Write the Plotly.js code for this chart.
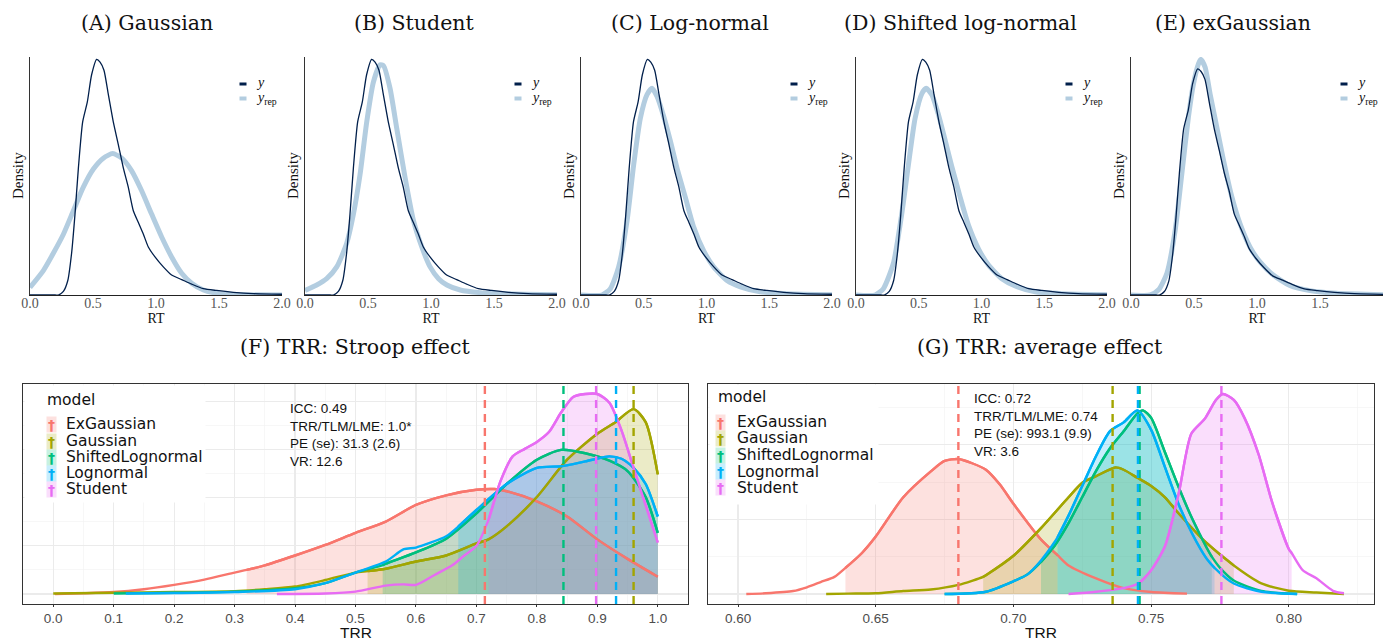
<!DOCTYPE html>
<html><head><meta charset="utf-8">
<script src="https://cdn.plot.ly/plotly-3.0.1.min.js"></script>
<style>html,body{margin:0;padding:0;background:#fff}</style>
</head><body>
<div id="chart" style="width:1390px;height:642px"></div>
<script>
// ---------- top row: posterior predictive density checks ----------
const obsRT   = [0,0.2,0.225,0.265,0.30,0.33,0.357,0.384,0.418,0.455,0.489,0.529,0.556,0.587,0.622,0.661,0.701,0.741,0.78,0.82,0.86,0.9,0.939,0.992,1.058,1.124,1.204,1.283,1.376,1.481,1.614,1.772,2.0];
const obsDens = [0,0,0.0,0.04,0.16,0.46,0.89,1.40,1.91,2.13,2.43,2.60,2.57,2.48,2.21,1.91,1.66,1.40,1.19,0.93,0.80,0.67,0.53,0.42,0.31,0.22,0.17,0.12,0.07,0.05,0.03,0.015,0.008];

const repRT_A   = [0,0.106,0.185,0.265,0.344,0.423,0.503,0.582,0.656,0.728,0.807,0.886,0.966,1.045,1.124,1.204,1.283,1.376,1.481,1.614,2.0];
const repDens_A = [0.084,0.27,0.46,0.67,0.93,1.19,1.39,1.51,1.56,1.51,1.37,1.15,0.89,0.64,0.42,0.24,0.13,0.055,0.02,0.005,0];

const repRT_B   = [0,0.093,0.172,0.252,0.331,0.384,0.437,0.49,0.543,0.596,0.623,0.675,0.728,0.795,0.861,0.927,0.993,1.06,1.126,1.232,1.391,1.656,2.0];
const repDens_B = [0.05,0.11,0.18,0.31,0.57,0.89,1.33,1.91,2.35,2.54,2.53,2.28,1.84,1.29,0.82,0.53,0.31,0.18,0.11,0.055,0.026,0.011,0.004];

const repRT_C   = [0,0.167,0.234,0.3,0.367,0.42,0.473,0.526,0.566,0.606,0.659,0.712,0.765,0.831,0.898,0.977,1.057,1.163,1.27,1.429,1.641,2.0];
const repDens_C = [0,0,0.07,0.31,0.82,1.44,1.95,2.21,2.28,2.19,1.97,1.70,1.40,1.08,0.75,0.49,0.31,0.16,0.09,0.036,0.015,0.004];

const repRT_D   = [0,0.152,0.218,0.298,0.364,0.418,0.471,0.524,0.559,0.604,0.657,0.71,0.763,0.83,0.896,0.976,1.056,1.162,1.269,1.428,1.641,2.0];
const repDens_D = [0,0,0.07,0.35,0.89,1.44,1.95,2.22,2.28,2.21,1.99,1.71,1.42,1.08,0.77,0.51,0.33,0.18,0.10,0.036,0.015,0.004];

const repRT_E   = [0,0.153,0.219,0.285,0.351,0.404,0.456,0.496,0.536,0.554,0.588,0.628,0.681,0.734,0.8,0.865,0.945,1.024,1.129,1.261,1.42,1.631,2.0];
const repDens_E = [0,0,0.06,0.25,0.75,1.40,2.05,2.43,2.66,2.71,2.62,2.31,1.93,1.55,1.13,0.82,0.55,0.38,0.23,0.11,0.05,0.02,0.004];

const panelTitles = ['(A) Gaussian','(B) Student','(C) Log-normal','(D) Shifted log-normal','(E) exGaussian'];
const rtTicks = [0,0.5,1.0,1.5,2.0];
const topLegendLabels = ['<i>y</i>','<i>y</i><sub>rep</sub>'];

// ---------- bottom row: TRR posterior densities ----------
const models = ['ExGaussian','Gaussian','ShiftedLognormal','Lognormal','Student'];
const modelColors = ['#F8766D','#A3A500','#00BF7D','#00B0F6','#E76BF3'];
const modelFills  = ['rgba(248,118,109,0.22)','rgba(163,165,0,0.22)','rgba(0,191,125,0.22)','rgba(0,176,246,0.22)','rgba(231,107,243,0.22)'];

// (F) Stroop effect
const F_ExGaussian_x = [0.003,0.05,0.1,0.15,0.2,0.25,0.3,0.32,0.35,0.4,0.45,0.5,0.55,0.6,0.65,0.7,0.73,0.75,0.8,0.85,0.9,0.95,1.0];
const F_ExGaussian_y = [0.0,0.03,0.08,0.2,0.38,0.6,0.89,1.0,1.19,1.6,2.04,2.54,3.01,3.7,4.1,4.33,4.36,4.27,3.85,3.22,2.27,1.46,0.72];
const F_Gaussian_x = [0.0,0.1,0.2,0.3,0.35,0.4,0.45,0.5,0.52,0.55,0.6,0.65,0.7,0.72,0.75,0.8,0.85,0.9,0.93,0.96,0.98,1.0];
const F_Gaussian_y = [0.02,0.05,0.08,0.12,0.2,0.31,0.58,0.89,0.95,1.05,1.35,1.6,2.1,2.27,2.81,4.03,5.58,6.66,7.14,7.68,7.14,4.97];
const F_Shifted_x = [0.1,0.2,0.3,0.4,0.45,0.5,0.545,0.55,0.6,0.65,0.7,0.75,0.8,0.84,0.88,0.92,0.95,0.98,1.0];
const F_Shifted_y = [0.02,0.05,0.1,0.24,0.45,0.89,1.2,1.26,1.73,2.3,3.35,4.57,5.58,5.99,5.85,5.54,5.11,4.03,2.54];
const F_Lognormal_x = [0.12,0.2,0.3,0.4,0.45,0.5,0.55,0.58,0.6,0.65,0.67,0.7,0.75,0.8,0.84,0.88,0.92,0.94,0.96,0.98,1.0];
const F_Lognormal_y = [0.02,0.04,0.08,0.2,0.45,0.89,1.35,1.86,1.93,2.4,2.8,3.49,4.57,5.24,5.31,5.51,5.72,5.62,5.24,4.57,3.22];
const F_Student_x = [0.37,0.45,0.5,0.55,0.58,0.6,0.63,0.66,0.68,0.7,0.72,0.74,0.76,0.78,0.8,0.82,0.84,0.86,0.88,0.9,0.92,0.94,0.96,0.98,1.0];
const F_Student_y = [0.0,0.02,0.1,0.35,0.4,0.38,0.78,1.19,1.6,2.0,3.08,4.7,5.72,6.03,6.32,6.73,7.54,8.19,8.31,8.31,7.95,6.8,5.24,3.69,2.14];
const F_fillLo = [0.32,0.52,0.545,0.67,0.72];
const F_fillHi = [1.0,1.0,1.0,1.0,1.0];
const F_means  = [0.714,0.960,0.844,0.931,0.898];
const F_stats  = ['ICC: 0.49','TRR/TLM/LME: 1.0*','PE (se): 31.3 (2.6)','VR: 12.6'];
const F_ticks  = [0.0,0.1,0.2,0.3,0.4,0.5,0.6,0.7,0.8,0.9,1.0];

// (G) average effect
const G_ExGaussian_x = [0.603,0.61,0.62,0.625,0.63,0.635,0.639,0.645,0.65,0.66,0.67,0.675,0.68,0.685,0.69,0.695,0.70,0.71,0.716,0.72,0.73,0.74,0.75,0.763];
const G_ExGaussian_y = [0.0,0.1,0.4,0.9,1.6,2.3,3.5,5.5,7.7,12.96,16.43,17.83,18.09,17.52,16.65,14.7,12.09,7.3,5.2,3.83,2.09,0.78,0.26,0.05];
const G_Gaussian_x = [0.632,0.64,0.65,0.66,0.67,0.68,0.689,0.69,0.70,0.71,0.72,0.725,0.73,0.737,0.74,0.745,0.75,0.755,0.76,0.77,0.78,0.79,0.80,0.81,0.82];
const G_Gaussian_y = [0.0,0.05,0.1,0.4,0.6,1.22,2.3,2.52,5.13,8.83,12.96,14.91,15.78,16.96,16.65,15.57,14.48,12.96,10.78,6.87,3.83,1.43,0.43,0.2,0.0];
const G_Shifted_x = [0.675,0.69,0.70,0.705,0.71,0.715,0.72,0.725,0.73,0.735,0.74,0.745,0.747,0.75,0.755,0.76,0.765,0.77,0.772,0.775,0.78,0.79,0.803];
const G_Shifted_y = [0.0,0.3,1.7,2.6,4.3,6.5,9.5,13.0,16.5,19.5,21.8,24.2,24.6,23.6,19.0,14.3,10.0,6.3,5.0,3.5,1.8,0.4,0.0];
const G_Lognormal_x = [0.675,0.69,0.70,0.705,0.71,0.715,0.716,0.72,0.725,0.73,0.735,0.74,0.745,0.75,0.755,0.76,0.765,0.77,0.773,0.78,0.79,0.803];
const G_Lognormal_y = [0.0,0.3,1.7,2.6,4.5,7.0,7.6,10.5,14.5,18.5,21.8,23.0,24.6,22.0,17.0,12.0,8.0,4.8,3.5,1.4,0.3,0.0];
const G_Student_x = [0.72,0.73,0.74,0.7455,0.75,0.755,0.76,0.7646,0.7695,0.7735,0.776,0.78,0.784,0.789,0.794,0.80,0.801,0.805,0.81,0.816,0.82];
const G_Student_y = [0.0,0.3,0.78,1.43,3.2,6.4,13.5,21.5,23.5,26.0,26.8,26.0,23.5,18.7,12.2,6.0,5.5,3.2,2.1,0.43,0.1];
const G_fillLo = [0.639,0.689,0.71,0.716,0.7455];
const G_fillHi = [0.716,0.78,0.772,0.773,0.801];
const G_means  = [0.680,0.736,0.7458,0.7452,0.7755];
const G_stats  = ['ICC: 0.72','TRR/TLM/LME: 0.74','PE (se): 993.1 (9.9)','VR: 3.6'];
const G_ticks  = [0.60,0.65,0.70,0.75,0.80];

const bottomTitles = ['(F) TRR: Stroop effect','(G) TRR: average effect'];
const legendTitle = 'model';

// ---------- build ----------
const W = 1390, H = 642;
const px = v => v / W, py = v => 1 - v / H;
const SERIF = 'Liberation Serif, Times New Roman, serif';
const TSERIF = 'DejaVu Serif, serif';
const SANS = 'Liberation Sans, Arial, sans-serif';
const LSANS = 'DejaVu Sans, sans-serif';

const repRT = [repRT_A, repRT_B, repRT_C, repRT_D, repRT_E];
const repDens = [repDens_A, repDens_B, repDens_C, repDens_D, repDens_E];
const topBox = [[30,282],[305,557],[581,832],[856,1107],[1131,1383]];
const topTitleX = [147,414,690,960,1233];
const topY = [57, 295];
const repColor = '#b3cde0', obsColor = '#011f4b';

const traces = [];
const layout = {
  width: W, height: H, margin: {l:0, r:0, t:0, b:0},
  paper_bgcolor: '#fff', plot_bgcolor: '#fff',
  showlegend: false, annotations: [], shapes: []
};
const ann = a => layout.annotations.push(Object.assign({xref:'paper', yref:'paper', showarrow:false}, a));

for (let i = 0; i < 5; i++) {
  const n = i + 1;
  const xa = n === 1 ? 'x' : 'x' + n, ya = n === 1 ? 'y' : 'y' + n;
  traces.push({type:'scatter', mode:'lines', x: repRT[i], y: repDens[i], xaxis: xa, yaxis: ya,
    line:{color: repColor, width:5, shape:'spline', smoothing:0.6}, name:'y_rep', hoverinfo:'skip'});
  traces.push({type:'scatter', mode:'lines', x: obsRT, y: obsDens, xaxis: xa, yaxis: ya,
    line:{color: obsColor, width:1.3, shape:'spline', smoothing:0.6}, name:'y', hoverinfo:'skip'});
  const ymax = Math.max(Math.max(...repDens[i]), Math.max(...obsDens));
  const kx = n === 1 ? 'xaxis' : 'xaxis' + n, ky = n === 1 ? 'yaxis' : 'yaxis' + n;
  layout[kx] = {domain:[px(topBox[i][0]), px(topBox[i][1])], anchor: ya, range:[0,2],
    tickvals: rtTicks, ticktext: rtTicks.map(v => v.toFixed(1)), ticks:'', showgrid:false, zeroline:false,
    showline:true, linecolor:'#222', linewidth:1, tickfont:{family:SERIF, size:14, color:'#555'},
    ticklabelstandoff:-5,
    title:{text:'RT', font:{family:SERIF, size:14, color:'#111'}, standoff:0}};
  layout[ky] = {domain:[py(topY[1]), py(topY[0])], anchor: xa, range:[0, ymax*1.01],
    showticklabels:false, ticks:'', showgrid:false, zeroline:false, showline:true, linecolor:'#333', linewidth:1};
  // titles and labels
  ann({text: panelTitles[i], x: px(topTitleX[i]), y: py(23), xanchor:'center', yanchor:'middle',
    font:{family:TSERIF, size:20.5, color:'#111'}});
  ann({text:'Density', x: px(topBox[i][0]-12), y: py(176), xanchor:'center', yanchor:'middle', textangle:-90,
    font:{family:SERIF, size:15, color:'#111'}});
  // small legend (y, y_rep): colored key bars + labels
  [obsColor, repColor].forEach((c, k) => {
    const yy = k === 0 ? 84 : 98;
    ann({text:' ', x: px(topBox[i][0]+212.5), y: py(yy), xanchor:'center', yanchor:'middle',
      width:6, height: k === 0 ? 2 : 3, bgcolor:c, borderpad:0, font:{family:SANS, size:1, color:c}});
    ann({text: topLegendLabels[k], x: px(topBox[i][0]+224), y: py(k === 0 ? 82 : 98), xanchor:'left', yanchor:'middle',
      font:{family:SERIF, size:14, color:'#111'}});
  });
}

function subset(xs, ys, lo, hi) {
  const X = [], Y = [];
  xs.forEach((x, k) => { if (x >= lo - 1e-9 && x <= hi + 1e-9) { X.push(x); Y.push(ys[k]); } });
  return [X, Y];
}

const bottom = [
  {xs:[F_ExGaussian_x,F_Gaussian_x,F_Shifted_x,F_Lognormal_x,F_Student_x],
   ys:[F_ExGaussian_y,F_Gaussian_y,F_Shifted_y,F_Lognormal_y,F_Student_y],
   lo:F_fillLo, hi:F_fillHi, means:F_means, stats:F_stats, ticks:F_ticks, fmt:1,
   box:[23,688], xrange:[-0.05,1.05], minor:0.05, ydt:2, yminor:1,
   legBg:[24,385,180,116], legTitle:[45,400], keyX:51, textX:64, rows:[424,441,457,473,489],
   statPos:[288,399], titleX:355},
  {xs:[G_ExGaussian_x,G_Gaussian_x,G_Shifted_x,G_Lognormal_x,G_Student_x],
   ys:[G_ExGaussian_y,G_Gaussian_y,G_Shifted_y,G_Lognormal_y,G_Student_y],
   lo:G_fillLo, hi:G_fillHi, means:G_means, stats:G_stats, ticks:G_ticks, fmt:2,
   box:[708,1374], xrange:[0.5891,0.8309], minor:0.025, ydt:10, yminor:5,
   legBg:[709,384,168,119], legTitle:[716,397], keyX:721, textX:735, rows:[422,438,455,471.5,487.5],
   statPos:[972,389], titleX:1040}
];
const botY = [384, 604];

bottom.forEach((p, b) => {
  const n = 6 + b, xa = 'x' + n, ya = 'y' + n;
  let ymax = 0;
  p.ys.forEach(a => { ymax = Math.max(ymax, Math.max(...a)); });
  models.forEach((m, k) => {
    const [X, Y] = subset(p.xs[k], p.ys[k], p.lo[k], p.hi[k]);
    traces.push({type:'scatter', mode:'lines', x: X, y: Y, xaxis: xa, yaxis: ya, fill:'tozeroy',
      fillcolor: modelFills[k], line:{color: modelColors[k], width:2.4, shape:'spline', smoothing:0.7},
      name: m, hoverinfo:'skip'});
  });
  models.forEach((m, k) => {
    traces.push({type:'scatter', mode:'lines', x: p.xs[k], y: p.ys[k], xaxis: xa, yaxis: ya,
      line:{color: modelColors[k], width:2.4, shape:'spline', smoothing:0.7}, name: m, hoverinfo:'skip'});
    layout.shapes.push({type:'line', xref: xa, yref: ya + ' domain', x0: p.means[k], x1: p.means[k], y0:0, y1:1,
      line:{color: modelColors[k], width:2.4, dash:'8px,6px'}, layer:'above'});
  });
  layout['xaxis' + n] = {domain:[px(p.box[0]), px(p.box[1])], anchor: ya, range: p.xrange,
    tickvals: p.ticks, ticktext: p.ticks.map(v => v.toFixed(p.fmt)), ticks:'outside', ticklen:2, tickcolor:'#333',
    showgrid:true, gridcolor:'#EBEBEB', gridwidth:1.1, zeroline:false, showline:true, mirror:true,
    linecolor:'#333', linewidth:1, tickfont:{family:SANS, size:13.5, color:'#4D4D4D'},
    minor:{dtick: p.minor, tick0: p.ticks[0], showgrid:true, gridcolor:'#F2F2F2', gridwidth:0.6, ticks:''}};
  layout['yaxis' + n] = {domain:[py(botY[1]), py(botY[0])], anchor: xa, range:[-0.05*ymax, 1.05*ymax],
    showticklabels:false, ticks:'', dtick: p.ydt, tick0:0, showgrid:true, gridcolor:'#EBEBEB', gridwidth:1.1,
    zeroline:false, showline:true, mirror:true, linecolor:'#333', linewidth:1,
    minor:{dtick: p.yminor, tick0:0, showgrid:true, gridcolor:'#F2F2F2', gridwidth:0.6}};
  // axis title
  ann({text:'TRR', x: px((p.box[0]+p.box[1])/2), y: py(642), xanchor:'center', yanchor:'bottom', borderpad:0,
    font:{family:SANS, size:15.5, color:'#111'}});
  // legend (ggplot style, inside panel)
  ann({text:' ', x: px(p.legBg[0]), y: py(p.legBg[1]), xanchor:'left', yanchor:'top',
    width: p.legBg[2], height: p.legBg[3], bgcolor:'#fff', borderpad:0});
  ann({text: legendTitle, x: px(p.legTitle[0]), y: py(p.legTitle[1]), xanchor:'left', yanchor:'middle',
    font:{family:LSANS, size:15.5, color:'#111'}});
  models.forEach((m, k) => {
    ann({text:'<b>†</b>', x: px(p.keyX), y: py(p.rows[k]), xanchor:'center', yanchor:'middle',
      width:9, height:15, bgcolor: modelFills[k], borderpad:0, font:{family:LSANS, size:14, color: modelColors[k]}});
    ann({text: m, x: px(p.textX), y: py(p.rows[k]), xanchor:'left', yanchor:'middle',
      font:{family:LSANS, size:15.5, color:'#111'}});
  });
  ann({text: p.stats.join('<br>'), x: px(p.statPos[0]), y: py(p.statPos[1]),
    xanchor:'left', yanchor:'top', align:'left', font:{family:SANS, size:13.5, color:'#111'}});
  ann({text: bottomTitles[b], x: px(p.titleX), y: py(347), xanchor:'center', yanchor:'middle',
    font:{family:TSERIF, size:20.5, color:'#111'}});
});

Plotly.newPlot('chart', traces, layout, {displayModeBar:false, staticPlot:true});
</script>
</body></html>
